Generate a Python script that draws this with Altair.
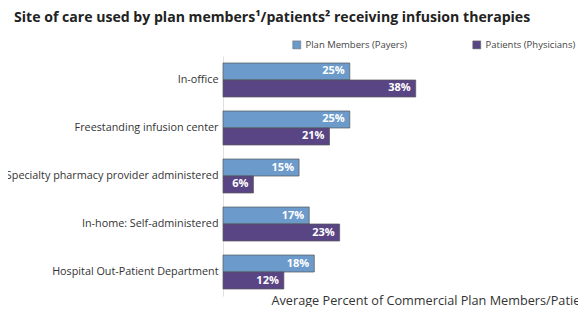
import altair as alt
import pandas as pd

categories = [
    "In-office",
    "Freestanding infusion center",
    "In-home: Specialty pharmacy provider administered",
    "In-home: Self-administered",
    "Hospital Out-Patient Department",
]
series = ["Plan Members (Payers)", "Patients (Physicians)"]
payers = [25, 25, 15, 17, 18]
patients = [38, 21, 6, 23, 12]
colors = ["#6c9bcb", "#5a4584"]

rows = []
for c, a, b in zip(categories, payers, patients):
    rows.append({"site": c, "group": series[0], "value": a, "label": f"{a}%"})
    rows.append({"site": c, "group": series[1], "value": b, "label": f"{b}%"})
df = pd.DataFrame(rows)

base = alt.Chart(df).encode(
    y=alt.Y(
        "site:N",
        sort=categories,
        scale=alt.Scale(paddingInner=0.2917, paddingOuter=0.1458),
        axis=alt.Axis(
            title=None, ticks=False, domainColor="#e0e0e0", labelFontSize=10.8,
            labelColor="#333", labelPadding=5, labelLimit=0,
        ),
    ),
    yOffset=alt.YOffset("group:N", sort=series, scale=alt.Scale(paddingInner=0, paddingOuter=0)),
    x=alt.X(
        "value:Q",
        scale=alt.Scale(domain=[0, 70], nice=False, zero=True),
        axis=alt.Axis(
            labels=False, ticks=False, domain=False, grid=False,
            title="Average Percent of Commercial Plan Members/Patients",
            titleFontSize=12.7, titleFontWeight="normal", titleColor="#333",
            titleAlign="left", titleAnchor="start", titleX=48, titleY=8,
            titleBaseline="alphabetic",
        ),
    ),
)

bars = base.mark_bar(stroke="#555", strokeWidth=0.7).encode(
    color=alt.Color(
        "group:N",
        sort=series,
        scale=alt.Scale(domain=series, range=colors),
        legend=alt.Legend(
            title=None, orient="none", legendX=69, legendY=-16, direction="horizontal",
            symbolType="square", symbolSize=64, labelFontSize=9.5, labelColor="#444",
            columnPadding=64, symbolStrokeColor="#666", symbolStrokeWidth=0.5, labelOffset=4,
        ),
    )
)

text = base.mark_text(align="right", dx=-5, color="white", fontWeight="bold", fontSize=11).encode(
    text="label:N"
)

chart = (
    alt.layer(bars, text)
    .properties(
        width=355,
        height=240,
        autosize="none",
        padding={"left": 215, "top": 48, "right": 0, "bottom": 11},
        title=alt.Title(
            "Site of care used by plan members¹/patients² receiving infusion therapies",
            anchor="start", frame="group", dx=-209, fontSize=14.1, fontWeight="bold",
            color="#222", offset=15,
        ),
    )
    .configure(font="Open Sans")
    .configure_view(stroke=None)
)

chart.save("out.html", embed_options={"renderer": "svg", "actions": False})
